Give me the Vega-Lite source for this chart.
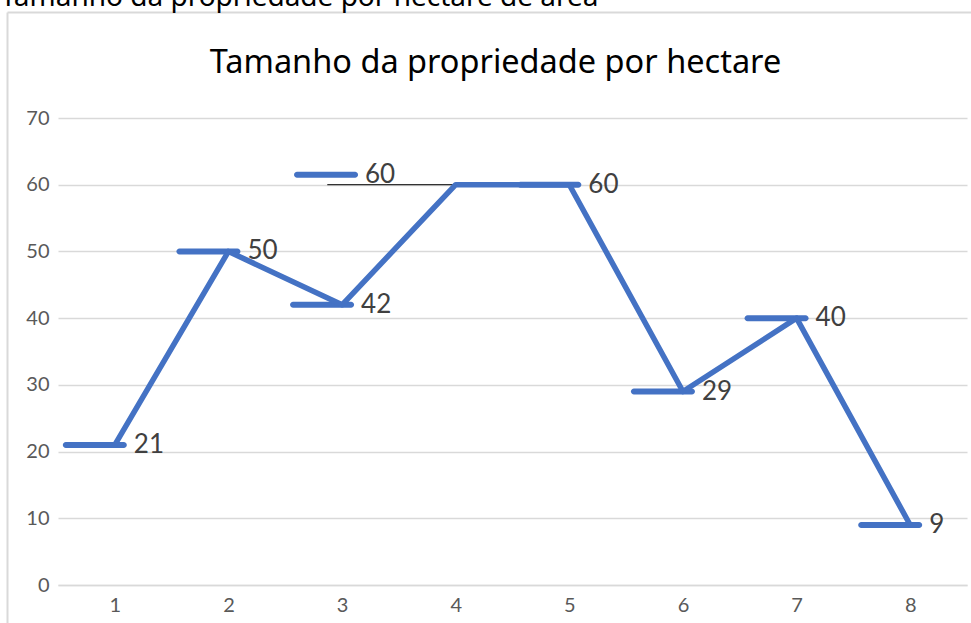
{
  "$schema": "https://vega.github.io/schema/vega-lite/v6.json",
  "autosize": {"type": "none"},
  "width": 909,
  "height": 467,
  "padding": {"left": 58, "top": 118, "right": 4, "bottom": 38},
  "background": "white",
  "config": {
    "view": {"stroke": null},
    "axis": {"labelFont": "Lato", "labelFontSize": 20, "labelColor": "#595959"}
  },
  "datasets": {
    "pts": [
      {"n": 1, "v": 21, "lx": 1, "ly": 21},
      {"n": 2, "v": 50, "lx": 2, "ly": 50},
      {"n": 3, "v": 42, "lx": 3, "ly": 42},
      {"n": 4, "v": 60, "lx": 3.035, "ly": 61.5},
      {"n": 5, "v": 60, "lx": 5, "ly": 60},
      {"n": 6, "v": 29, "lx": 6, "ly": 29},
      {"n": 7, "v": 40, "lx": 7, "ly": 40},
      {"n": 8, "v": 9, "lx": 8, "ly": 9}
    ],
    "leader": [{"x1": 2.87, "x2": 4, "y": 60}],
    "frame": [{"a": 0, "b": 0}]
  },
  "layer": [
    {
      "data": {"name": "frame"},
      "mark": {"type": "point", "opacity": 0},
      "encoding": {
        "x": {
          "field": "a", "type": "quantitative",
          "scale": {"domain": [0, 1], "range": [-51, 1100]},
          "axis": {
            "orient": "top", "offset": 106, "domainColor": "#d9d9d9", "domainWidth": 2,
            "labels": false, "ticks": false, "grid": false,
            "title": "Tamanho da propriedade por hectare",
            "titleAlign": "center", "titleX": 437, "titleY": 60,
            "titleBaseline": "alphabetic", "titleFont": "Noto Sans", "titleFontSize": 32.5,
            "titleFontWeight": "normal", "titleColor": "#000000"
          }
        },
        "y": {
          "field": "b", "type": "quantitative",
          "scale": {"domain": [0, 1], "range": [1000, -106]},
          "axis": {
            "orient": "left", "offset": 51, "domainColor": "#d9d9d9", "domainWidth": 2,
            "labels": false, "ticks": false, "grid": false,
            "title": "Tamanho da propriedade por hectare de área",
            "titleAngle": 0, "titleAlign": "left", "titleX": -7, "titleY": -113,
            "titleBaseline": "alphabetic", "titleFont": "Noto Sans", "titleFontSize": 28,
            "titleFontWeight": "normal", "titleColor": "#000000"
          }
        }
      }
    },
    {
      "layer": [
        {
          "data": {"name": "leader"},
          "mark": {"type": "rule", "color": "#000000", "strokeWidth": 1},
          "encoding": {
            "x": {"field": "x1", "type": "quantitative", "scale": {"domain": [0.5, 8.5], "nice": false, "zero": false}},
            "x2": {"field": "x2"},
            "y": {"field": "y", "type": "quantitative", "scale": {"domain": [0, 70], "nice": false}}
          }
        },
        {
          "data": {"name": "pts"},
          "mark": {"type": "tick", "orient": "horizontal", "color": "#4472C4", "size": 64, "thickness": 6, "cornerRadius": 3, "xOffset": -20, "opacity": 1},
          "encoding": {
            "x": {"field": "lx", "type": "quantitative"},
            "y": {"field": "ly", "type": "quantitative"}
          }
        },
        {
          "data": {"name": "pts"},
          "mark": {"type": "line", "color": "#4472C4", "strokeWidth": 5.5, "strokeCap": "round", "strokeJoin": "round"},
          "encoding": {
            "x": {
              "field": "n", "type": "quantitative",
              "axis": {"orient": "bottom", "values": [1, 2, 3, 4, 5, 6, 7, 8], "format": "d", "grid": false, "ticks": false, "tickSize": 0, "domainColor": "#d9d9d9", "domainWidth": 1.5, "labelPadding": 10, "labelFont": "Lato", "labelFontSize": 20, "labelColor": "#595959", "title": null}
            },
            "y": {
              "field": "v", "type": "quantitative",
              "axis": {"orient": "left", "values": [0, 10, 20, 30, 40, 50, 60, 70], "format": "d", "grid": true, "gridColor": "#d9d9d9", "gridWidth": 1.5, "domain": false, "ticks": false, "tickSize": 0, "labelPadding": 9, "labelFont": "Lato", "labelFontSize": 20, "labelColor": "#595959", "title": null}
            }
          }
        },
        {
          "data": {"name": "pts"},
          "mark": {"type": "text", "align": "left", "baseline": "middle", "dx": 19, "font": "Lato", "fontSize": 26, "color": "#404040"},
          "encoding": {
            "x": {"field": "lx", "type": "quantitative"},
            "y": {"field": "ly", "type": "quantitative"},
            "text": {"field": "v"}
          }
        }
      ]
    }
  ],
  "resolve": {
    "scale": {"x": "independent", "y": "independent"},
    "axis": {"x": "independent", "y": "independent"}
  }
}
